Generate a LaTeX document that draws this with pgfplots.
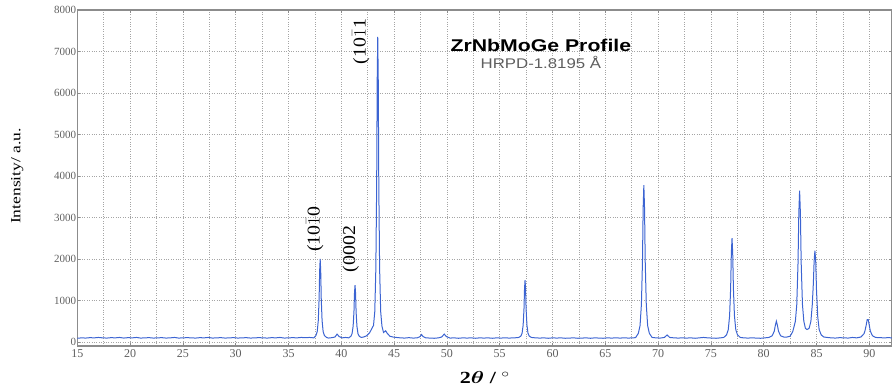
\documentclass[border=0pt]{standalone}
\usepackage{pgfplots}
\pgfplotsset{compat=1.18}
\usepackage{amsmath,bm}
\usepackage{fontspec}
\setmainfont{Liberation Serif}
\newfontfamily\sansf{Liberation Sans}
\definecolor{lineblue}{RGB}{60,100,210}
\definecolor{axgray}{RGB}{140,140,140}
\definecolor{gridgray}{RGB}{165,165,165}
\definecolor{ticktext}{RGB}{95,95,95}
\begin{document}
\begin{tikzpicture}
\useasboundingbox (-77.3pt,-44pt) rectangle (814.7pt,346pt);
\begin{axis}[
  scale only axis,
  width=814.7pt, height=336pt,
  xmin=15, xmax=92.15, ymin=-96, ymax=8000,
  xtick={15,20,...,90}, ytick={0,1000,...,8000},
  minor x tick num=1,
  grid=both,
  major grid style={gridgray, dotted, line width=0.7pt},
  minor grid style={gridgray, dotted, line width=0.7pt},
  axis line style={axgray, line width=1.4pt},
  tick style={axgray, line width=0.6pt},
  major tick length=3pt, minor tick length=0pt,
  /pgf/number format/assume math mode=true,
  /pgf/number format/1000 sep={},
  xticklabel style={font=\fontsize{12}{14}\selectfont, text=ticktext, inner sep=1pt, yshift=-2pt},
  yticklabel style={font=\fontsize{11}{12}\selectfont, text=ticktext, inner sep=1pt},
  clip=false,
]
\addplot[lineblue, line width=1pt] coordinates {
(15,90) (15.4,100) (15.8,95) (16.2,105) (16.6,100) (17.0,110) (17.4,100) (17.8,95) (18.2,105) (18.6,100)
(19.0,110) (19.4,95) (19.8,105) (20.2,100) (20.6,110) (21.0,95) (21.4,100) (21.8,105) (22.2,95) (22.6,100)
(23.0,105) (23.4,95) (23.8,100) (24.2,110) (24.6,95) (25.0,100) (25.4,105) (25.8,100) (26.2,95) (26.6,105)
(27.0,100) (27.4,110) (27.8,95) (28.2,100) (28.6,105) (29.0,95) (29.4,100) (29.8,105) (30.2,95) (30.6,100)
(31.0,105) (31.4,95) (31.8,100) (32.2,105) (32.6,100) (33.0,95) (33.4,105) (33.8,100) (34.2,110) (34.6,95)
(35.0,100) (35.4,105) (35.8,100) (36.2,110) (36.6,105) (37.0,110) (37.4,100)
(37.6,157) (37.72,252) (37.82,518) (37.9,1050) (37.95,1715) (38.0,2000) (38.05,1715) (38.1,1050) (38.18,518) (38.28,252) (38.4,157) (38.6,110)
(38.8,95) (39.1,105) (39.4,120) (39.6,190) (39.8,130) (40.1,100) (40.4,110) (40.7,100)
(40.9,138) (41.02,200) (41.12,380) (41.2,735) (41.25,1180) (41.3,1370) (41.35,1180) (41.4,735) (41.48,380) (41.58,200) (41.7,138) (41.9,110)
(42.1,120) (42.4,150) (42.7,230) (42.9,330)
(43.05,400) (43.17,730) (43.27,1750) (43.35,3800) (43.4,6300) (43.45,7350) (43.5,6300) (43.55,3800) (43.63,1750) (43.73,730) (43.85,380) (44.0,230)
(44.2,270) (44.35,210) (44.6,140) (44.9,120) (45.2,110)
(45.6,100) (46.0,95) (46.4,105) (46.8,95) (47.2,100) (47.45,130) (47.6,180) (47.75,130) (48.0,100) (48.4,95) (48.8,90) (49.2,100) (49.5,120) (49.75,190) (49.95,130)
(50.3,95) (50.7,100) (51.1,90) (51.5,100) (51.9,95) (52.3,100) (52.7,90) (53.1,100) (53.5,95) (53.9,100) (54.3,90) (54.7,100) (55.1,95) (55.5,100) (55.9,95) (56.3,100) (56.7,105)
(56.8,110) (57.0,142) (57.12,211) (57.22,406) (57.3,795) (57.35,1280) (57.4,1490) (57.45,1280) (57.5,795) (57.58,406) (57.68,211) (57.8,142) (58.0,110)
(58.4,100) (58.8,95) (59.2,100) (59.6,90) (60.0,100) (60.4,95) (60.8,100) (61.2,90) (61.6,95) (62.0,100) (62.4,90) (62.8,95) (63.2,100) (63.6,90) (64.0,100)
(64.4,95) (64.8,90) (65.2,100) (65.6,95) (66.0,100) (66.4,95) (66.8,100) (67.2,95) (67.6,100) (67.87,105)
(68.13,210) (68.29,394) (68.42,910) (68.52,1940) (68.585,3230) (68.65,3780) (68.715,3230) (68.78,1940) (68.88,910) (69.01,394) (69.17,210) (69.43,110)
(69.8,100) (70.2,95) (70.6,110) (70.85,170) (71.1,110) (71.5,100) (71.9,95) (72.3,100) (72.7,95) (73.1,100) (73.5,90) (73.9,100) (74.3,110) (74.7,100) (75.1,95) (75.5,90) (75.9,100) (76.22,110)
(76.48,172) (76.64,292) (76.77,628) (76.87,1300) (76.935,2140) (77.0,2500) (77.065,2140) (77.13,1300) (77.23,628) (77.36,292) (77.52,172) (77.78,110)
(78.1,100) (78.5,95) (78.9,100) (79.3,95) (79.7,90) (80.1,100) (80.5,110) (80.8,150)
(81.0,260) (81.1,400) (81.2,500) (81.3,400) (81.4,260) (81.6,150) (81.9,120) (82.2,120) (82.5,140) (82.75,250)
(83.0,500) (83.13,900) (83.25,1900) (83.325,3100) (83.4,3650) (83.475,3100) (83.55,1900) (83.67,900) (83.8,500) (83.95,330) (84.1,300)
(84.3,330) (84.47,500) (84.6,900) (84.7,1400) (84.775,1950) (84.85,2200) (84.925,1950) (85.0,1250) (85.12,600) (85.25,300) (85.45,170) (85.7,120)
(86.0,110) (86.4,100) (86.8,95) (87.2,105) (87.6,100) (88.0,95) (88.4,110) (88.8,100) (89.2,120) (89.5,200)
(89.6,280) (89.7,400) (89.8,540) (89.9,540) (90.0,400) (90.1,260) (90.3,150) (90.6,110) (91.0,105) (91.4,100) (91.8,105) (92.15,100)
};
% peak labels
\node[rotate=90, inner sep=0pt] at (axis cs:37.5,2720) {\scalebox{1.1}[1]{\fontsize{18}{20}\selectfont (10$\bar{1}$0}};
\node[rotate=90, inner sep=0pt] at (axis cs:40.9,2240) {\scalebox{1.1}[1]{\fontsize{18}{20}\selectfont (0002}};
\node[rotate=90, inner sep=0pt] at (axis cs:41.85,7240) {\scalebox{1.1}[1]{\fontsize{18}{20}\selectfont (10$\bar{1}$1}};
% title
\node[inner sep=0pt] at (axis cs:58.9,7157) {\scalebox{1.25}[1]{\sansf\bfseries\fontsize{17}{19}\selectfont ZrNbMoGe Profile}};
\node[inner sep=0pt, text=ticktext] at (axis cs:58.9,6747) {\scalebox{1.2}[1]{\sansf\fontsize{14}{16}\selectfont HRPD-1.8195 Å}};
% axis labels
\node[rotate=90, inner sep=0pt] at ([xshift=-60pt]rel axis cs:0,0.506) {\scalebox{1.25}[1]{\fontsize{14}{16}\selectfont Intensity/ a.u.}};
\node[inner sep=0pt] at ([yshift=-32pt]axis cs:53.6,-96) {\scalebox{1.3}[1]{\fontsize{17}{19}\selectfont\bfseries 2$\bm{\theta}$ / $^{\circ}$}};
\end{axis}
\end{tikzpicture}
\end{document}
